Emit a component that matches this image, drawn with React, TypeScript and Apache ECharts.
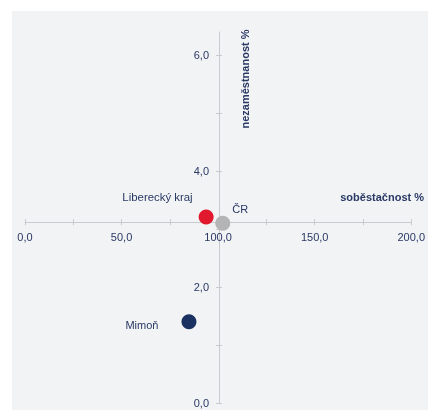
import React, { useEffect, useRef } from "react";
import * as echarts from "echarts";

const pointNames = ["Liberecký kraj", "ČR", "Mimoň"];
const selfSufficiency = [93.8, 102.4, 84.9];
const unemployment = [3.21, 3.1, 1.4];
const pointColors = ["#e0192f", "#b4b4b6", "#1b3161"];

const xTicks = [0, 25, 50, 75, 100, 125, 150, 175, 200];
const xLabels = [0, 50, 100, 150, 200];
const yTicks = [0, 1, 2, 3, 4, 5, 6];
const yLabels = [0, 2, 4, 6];

const X_MIN = 0;
const X_MAX = 200;
const Y_MIN = 0;
const Y_MAX = 6.4;
const X_CROSS = 100; // y axis drawn at this x value
const Y_CROSS = 3.12; // x axis drawn at this y value

const xAxisName = "soběstačnost %";
const yAxisName = "nezaměstnanost %";

const W = 428;
const H = 410;
const GRID = { left: 25, right: 15, top: 32, bottom: 7 };

const TEXT = "#293864";
const AXIS = "#c9cacd";
const FONT = "'Liberation Sans', Arial, sans-serif";

const fmt = (v: number) => v.toFixed(1).replace(".", ",");

export default function App() {
  const ref = useRef<HTMLDivElement>(null);

  useEffect(() => {
    document.body.style.margin = "0";
    document.body.style.overflow = "hidden";
    if (!ref.current) return;
    const chart = echarts.init(ref.current, null, { renderer: "svg" });

    const gw = W - GRID.left - GRID.right;
    const gh = H - GRID.top - GRID.bottom;
    const xOffset = -((Y_CROSS - Y_MIN) / (Y_MAX - Y_MIN)) * gh;
    const yOffset = -((X_CROSS - X_MIN) / (X_MAX - X_MIN)) * gw;

    const baseX = {
      type: "value",
      min: X_MIN,
      max: X_MAX,
      position: "bottom",
      offset: xOffset,
      splitLine: { show: false },
    };
    const baseY = {
      type: "value",
      min: Y_MIN,
      max: Y_MAX,
      position: "left",
      offset: yOffset,
      splitLine: { show: false },
    };

    const labelCfg = [
      { position: "left", offset: [-1, -20], size: 11.4 },
      { position: "right", offset: [-3, -14], size: 11 },
      { position: "left", offset: [-18, 3], size: 11 },
    ];

    chart.setOption({
      animation: false,
      graphic: [
        {
          type: "rect",
          shape: { x: 12, y: 11, width: W - 12, height: H - 11 },
          style: { fill: "#f2f3f5" },
          z: -10,
          silent: true,
        },
        {
          type: "text",
          x: 424,
          y: 197,
          style: {
            text: xAxisName,
            fill: TEXT,
            font: `bold 11px ${FONT}`,
            align: "right",
            verticalAlign: "middle",
          },
        },
        {
          type: "text",
          x: 245,
          y: 79,
          rotation: Math.PI / 2,
          style: {
            text: yAxisName,
            fill: TEXT,
            font: `bold 11px ${FONT}`,
            align: "center",
            verticalAlign: "middle",
          },
        },
      ],
      grid: { ...GRID, containLabel: false },
      xAxis: [
        {
          ...baseX,
          axisLine: { onZero: false, lineStyle: { color: AXIS, width: 1 } },
          axisTick: {
            show: true,
            inside: false,
            length: 3,
            customValues: xTicks,
            lineStyle: { color: AXIS },
          },
          axisLabel: {
            customValues: xLabels,
            formatter: (v: number) => fmt(v),
            color: TEXT,
            fontSize: 11,
            fontFamily: FONT,
            margin: 9,
          },
        },
        {
          ...baseX,
          axisLine: { show: false, onZero: false },
          axisTick: {
            show: true,
            inside: true,
            length: 3,
            customValues: xTicks,
            lineStyle: { color: AXIS },
          },
          axisLabel: { show: false },
        },
      ],
      yAxis: [
        {
          ...baseY,
          axisLine: { onZero: false, lineStyle: { color: AXIS, width: 1 } },
          axisTick: {
            show: true,
            inside: false,
            length: 3,
            customValues: yTicks,
            lineStyle: { color: AXIS },
          },
          axisLabel: {
            customValues: yLabels,
            formatter: (v: number) => fmt(v),
            color: TEXT,
            fontSize: 11,
            fontFamily: FONT,
            margin: 10,
          },
        },
        {
          ...baseY,
          axisLine: { show: false, onZero: false },
          axisTick: {
            show: true,
            inside: true,
            length: 3,
            customValues: yTicks,
            lineStyle: { color: AXIS },
          },
          axisLabel: { show: false },
        },
      ],
      series: [
        {
          type: "scatter",
          xAxisIndex: 0,
          yAxisIndex: 0,
          symbolSize: 15,
          z: 5,
          data: pointNames.map((name, i) => ({
            name,
            value: [selfSufficiency[i], unemployment[i]],
            itemStyle: { color: pointColors[i], opacity: 1 },
            label: {
              show: true,
              formatter: name,
              position: labelCfg[i].position,
              offset: labelCfg[i].offset,
              distance: 5,
              color: TEXT,
              fontSize: labelCfg[i].size,
              fontFamily: FONT,
            },
          })),
        },
      ],
    });

    return () => chart.dispose();
  }, []);

  return (
    <div
      ref={ref}
      style={{ position: "fixed", left: 0, top: 0, width: W, height: H }}
    />
  );
}
